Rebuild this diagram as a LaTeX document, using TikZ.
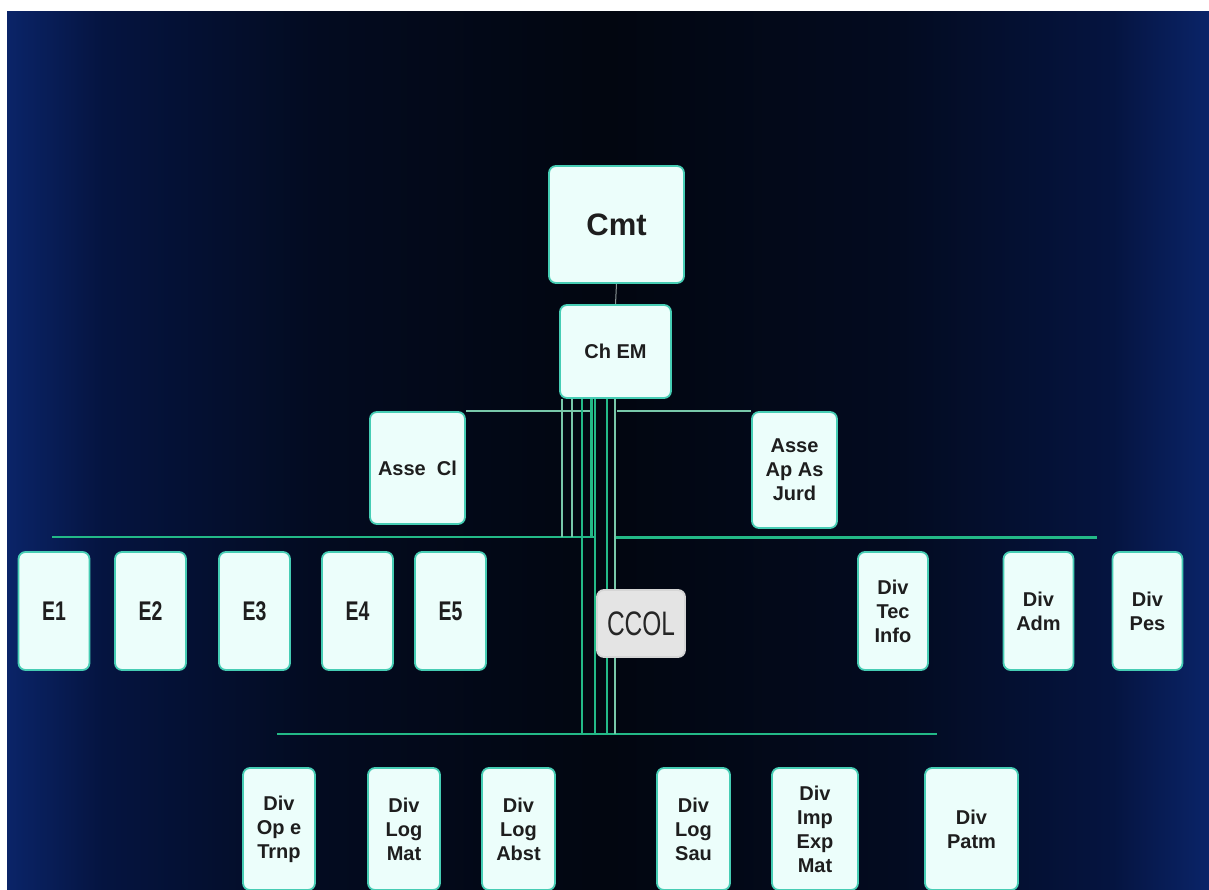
\documentclass[tikz,border=0pt]{standalone}
\usepackage{fontspec}
\setmainfont{Liberation Sans}
\newfontfamily\narrowf{Liberation Sans}[FakeStretch=0.72]
\usetikzlibrary{backgrounds}
\pgfdeclarelayer{bottom}
\pgfsetlayers{bottom,background,main}
\definecolor{bgedge}{RGB}{10,36,104}
\definecolor{bgnavy}{RGB}{5,20,64}
\definecolor{bgdark}{RGB}{3,11,32}
\definecolor{bgmid}{RGB}{2,6,16}
\pgfdeclarehorizontalshading{bgshade}{100bp}{color(0bp)=(bgedge); color(25bp)=(bgedge); color(29bp)=(bgnavy); color(38bp)=(bgdark); color(50bp)=(bgmid); color(62bp)=(bgdark); color(71bp)=(bgnavy); color(75bp)=(bgedge); color(100bp)=(bgedge)}
\definecolor{boxfill}{RGB}{236,254,251}
\definecolor{boxedge}{RGB}{70,205,180}
\definecolor{ccolfill}{RGB}{228,228,228}
\definecolor{txt}{RGB}{30,30,30}
\definecolor{busgreen}{RGB}{35,185,135}
\definecolor{buslight}{RGB}{120,200,170}
\definecolor{linkgrey}{RGB}{140,150,150}
\begin{document}
\begin{tikzpicture}[x=1pt,y=-1pt,
  box/.style={draw=boxedge, line width=1.8pt, fill=boxfill, rounded corners=7pt,
    inner sep=0pt, text=txt, align=center, font=\bfseries\fontsize{20}{24}\selectfont},
  ebox/.style={box, minimum width=71pt, minimum height=118pt,
    font=\narrowf\bfseries\fontsize{27}{30}\selectfont},
  dbox/.style={box, minimum height=118pt},
  bbox/.style={box, minimum height=122pt},
  bus/.style={draw=busgreen, line width=2.2pt},
  busthin/.style={draw=buslight, line width=1.5pt},
  busthick/.style={draw=busgreen, line width=3pt}]
\useasboundingbox (0,0) rectangle (1209,890);
\begin{pgfonlayer}{bottom}
\fill[white] (0,0) rectangle (1209,890);
\shade[shading=bgshade] (7,12) rectangle (1209,890);
\end{pgfonlayer}

% nodes
\node[box, minimum width=135pt, minimum height=117pt, font=\bfseries\fontsize{31}{36}\selectfont] (cmt) at (616.5,224.5) {Cmt};
\node[box, minimum width=111pt, minimum height=93pt] (chem) at (615.5,351.5) {Ch EM};
\node[box, minimum width=95pt, minimum height=112pt] (asseci) at (417.5,468) {Asse~ Cl};
\node[box, minimum width=85pt, minimum height=116pt] (asseap) at (794.5,470) {Asse\\Ap As\\Jurd};

\node[ebox] (e1) at (54,611) {E1};
\node[ebox] (e2) at (150.5,611) {E2};
\node[ebox] (e3) at (254.5,611) {E3};
\node[ebox] (e4) at (357.5,611) {E4};
\node[ebox] (e5) at (450.5,611) {E5};

\node[box, fill=ccolfill, draw=ccolfill!85!gray, minimum width=88pt, minimum height=67pt,
  font=\narrowf\fontsize{34}{36}\selectfont, text=black!85] (ccol) at (641,623.5) {CCOL};

\node[dbox, minimum width=70pt] (tec) at (893,611) {Div\\Tec\\Info};
\node[dbox, minimum width=70pt] (adm) at (1038.5,611) {Div\\Adm};
\node[dbox, minimum width=70pt] (pes) at (1147.5,611) {Div\\Pes};

\node[bbox, minimum width=72pt] (ope) at (279,829) {Div\\Op e\\Trnp};
\node[bbox, minimum width=72pt] (lmat) at (404,829) {Div\\Log\\Mat};
\node[bbox, minimum width=73pt] (labst) at (518.5,829) {Div\\Log\\Abst};
\node[bbox, minimum width=73pt] (lsau) at (693.5,829) {Div\\Log\\Sau};
\node[bbox, minimum width=86pt] (imp) at (815,829) {Div\\Imp\\Exp\\Mat};
\node[bbox, minimum width=93pt] (patm) at (971.5,829) {Div\\Patm};

% bus coordinates
\coordinate (h1l) at (592,412);
\coordinate (h1r) at (617,412);
\coordinate (h2a) at (52,537);
\coordinate (h2b) at (594,537);
\coordinate (h2c) at (616,537);
\coordinate (h2d) at (1097,537);
\coordinate (h3a) at (277,734);
\coordinate (h3b) at (937,734);
\coordinate (v1) at (562,537);
\coordinate (v2) at (572,537);
\coordinate (v3) at (591,537);
\coordinate (v4) at (582,734);
\coordinate (v5) at (595,734);
\coordinate (v6) at (607,734);
\coordinate (v7) at (615,734);

\begin{scope}[on background layer]
\draw[draw=linkgrey, line width=1pt] (cmt.south) -- (chem.north);
\draw[busthin] (asseci.north east) -- (asseci.north east -| h1l);
\draw[busthin] (asseap.north west -| h1r) -- (asseap.north west);
\draw[bus, line width=1.8pt] (h2a) -- (h2b);
\draw[busthick] (h2c) -- (h2d);
\draw[bus, line width=1.8pt] (h3a) -- (h3b);
\draw[busthin] (chem.south -| v1) -- (v1);
\draw[busthin] (chem.south -| v2) -- (v2);
\draw[busthick] (chem.south -| v3) -- (v3);
\draw[bus] (chem.south -| v4) -- (v4);
\draw[bus] (chem.south -| v5) -- (v5);
\draw[bus] (chem.south -| v6) -- (v6);
\draw[busthin] (chem.south -| v7) -- (v7);
\end{scope}
\end{tikzpicture}
\end{document}
